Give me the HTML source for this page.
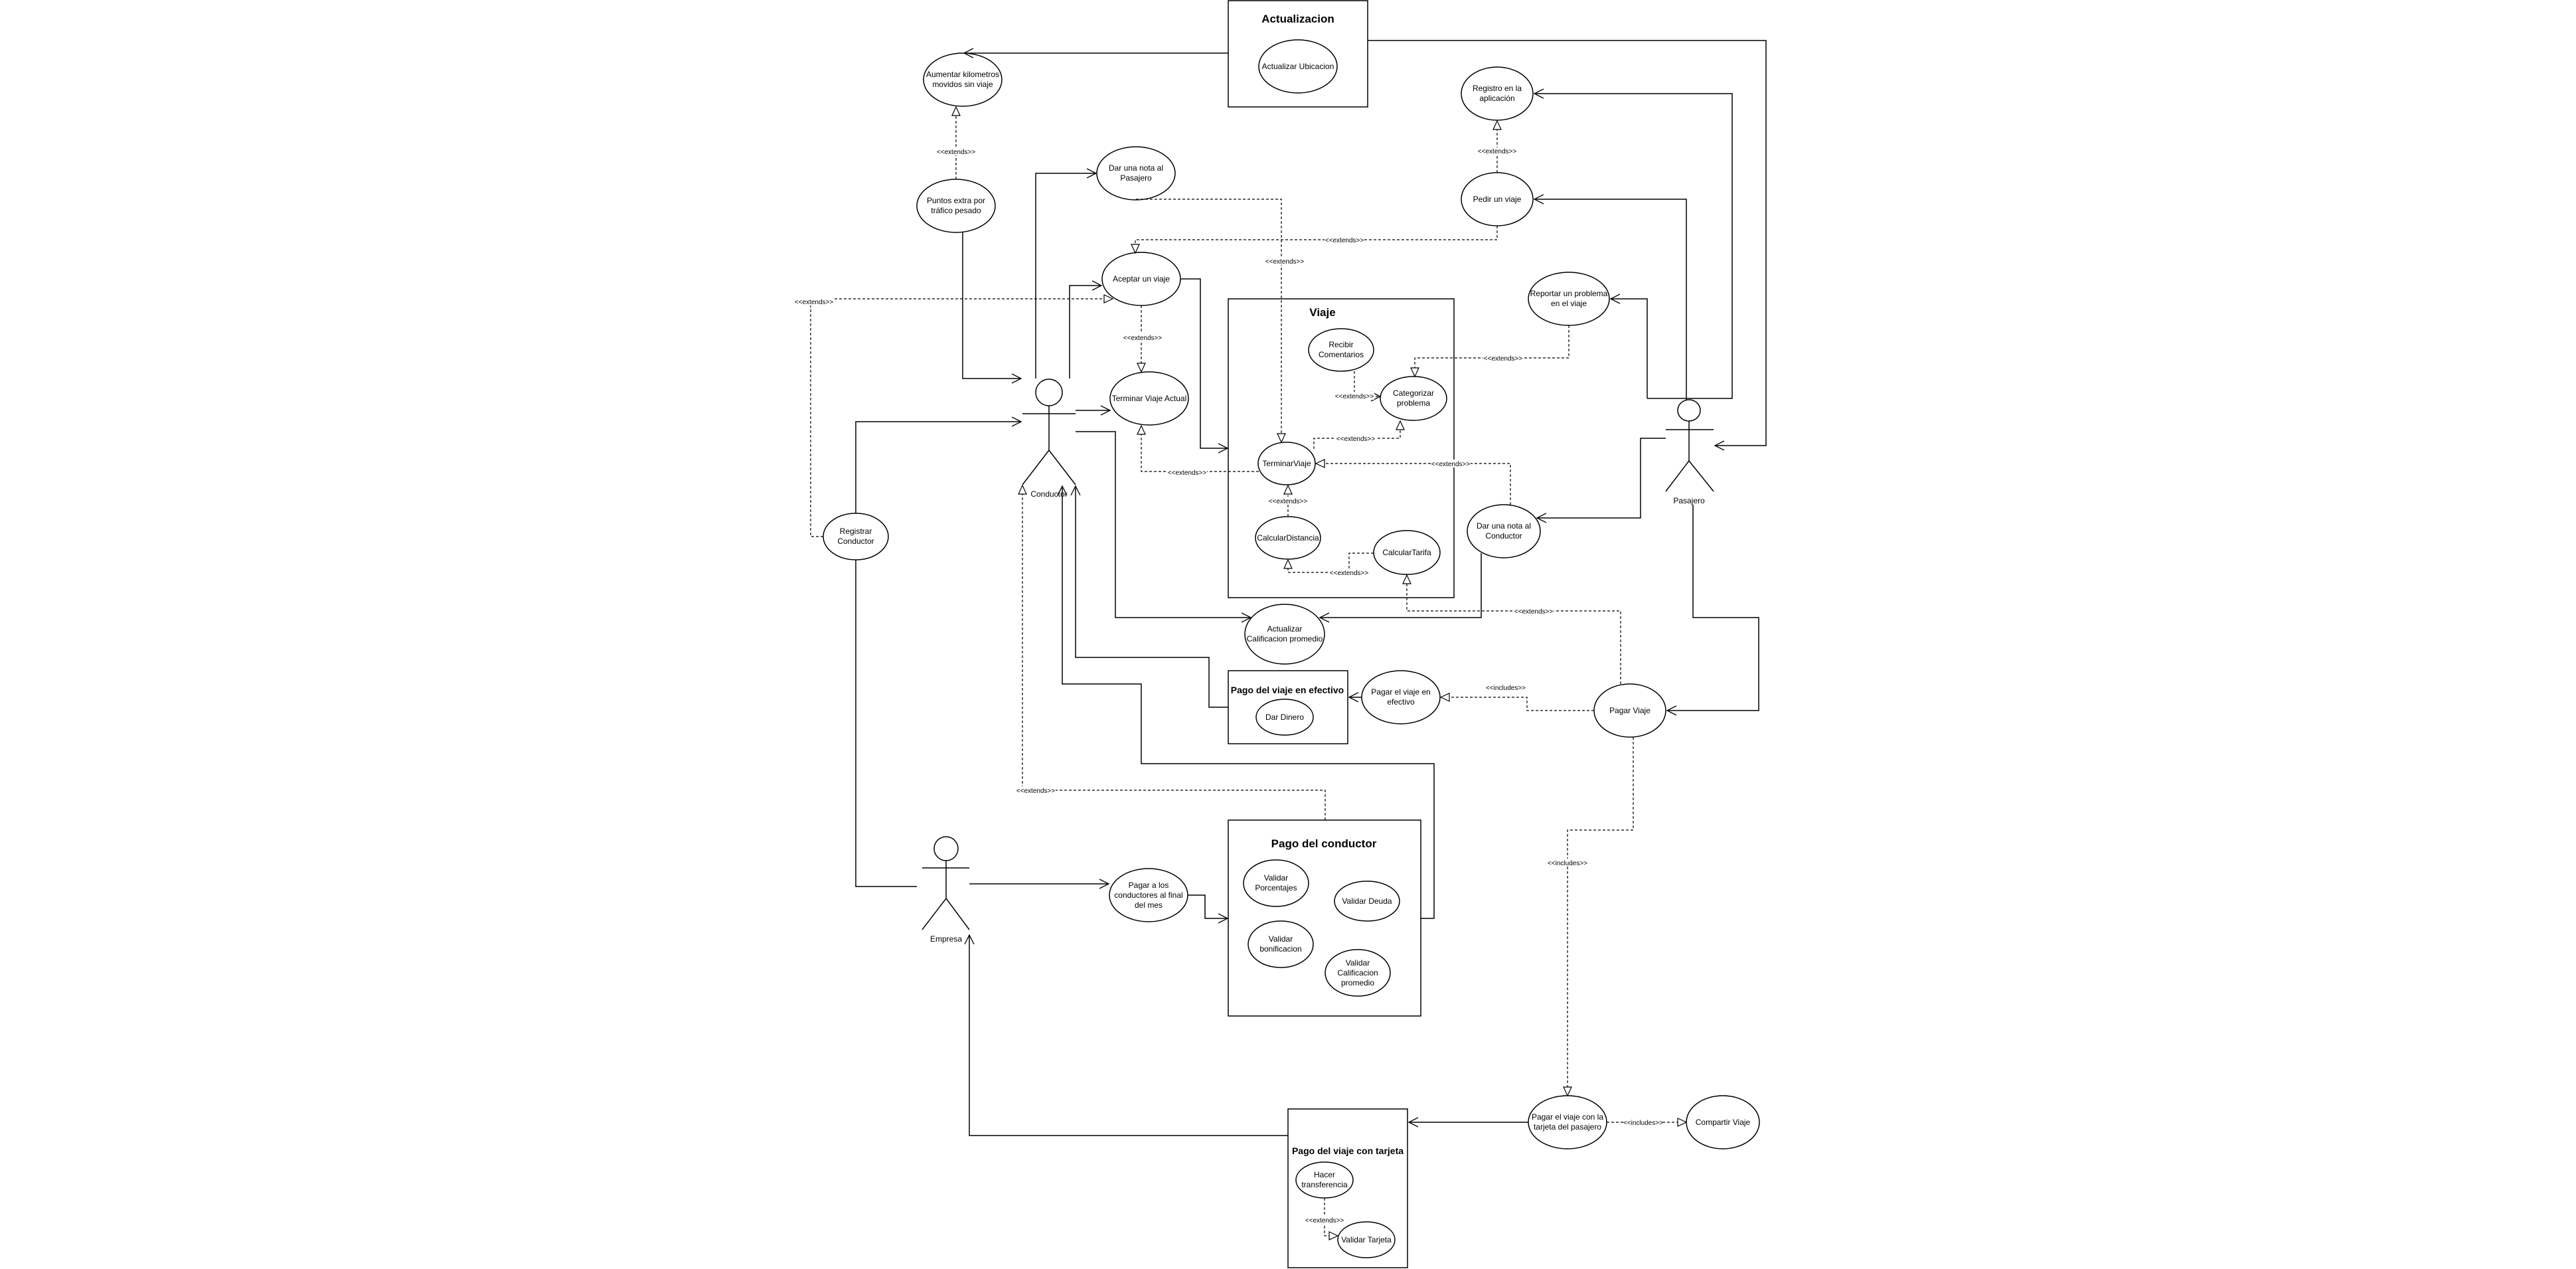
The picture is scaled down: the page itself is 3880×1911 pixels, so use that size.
<!DOCTYPE html>
<html><head><meta charset="utf-8"><style>
html,body{margin:0;padding:0;background:#fff;}
svg{display:block;}
text{font-family:"Liberation Sans",sans-serif;font-size:12px;fill:#000;text-anchor:middle;}
.t{font-weight:bold;font-size:17px;}
.s{font-size:10px;}
</style></head><body>
<svg width="3880" height="1911" viewBox="0 0 3880 1911" xmlns="http://www.w3.org/2000/svg">
<defs>
<marker id="o" markerWidth="16" markerHeight="16" refX="14" refY="8" orient="auto" markerUnits="userSpaceOnUse">
<path d="M0,1 L14,8 L0,15" fill="none" stroke="#000" stroke-width="1.3"/></marker>
<marker id="h" markerWidth="16" markerHeight="16" refX="14" refY="8" orient="auto" markerUnits="userSpaceOnUse">
<path d="M1,2 L14,8 L1,14 Z" fill="#fff" stroke="#000" stroke-width="1.2"/></marker>
</defs>
<g fill="none" stroke="#000" stroke-width="1.5">
<rect x="1850" y="1" width="210" height="160"/>
<rect x="1850" y="450" width="340" height="450"/>
<rect x="1850" y="1010" width="180" height="110"/>
<rect x="1850" y="1235" width="290" height="295"/>
<rect x="1940" y="1670" width="180" height="239"/>
<ellipse cx="1955" cy="100" rx="59" ry="40"/>
<ellipse cx="1450" cy="120" rx="59" ry="40"/>
<ellipse cx="2255" cy="141" rx="54" ry="40"/>
<ellipse cx="2255" cy="300" rx="54" ry="40"/>
<ellipse cx="2363" cy="450" rx="61" ry="40"/>
<ellipse cx="2265" cy="800" rx="55" ry="40"/>
<ellipse cx="1711" cy="261" rx="59" ry="40"/>
<ellipse cx="1719" cy="420" rx="59" ry="40"/>
<ellipse cx="1731" cy="600" rx="59" ry="40"/>
<ellipse cx="1440" cy="310" rx="59" ry="40"/>
<ellipse cx="1289" cy="808" rx="49" ry="35"/>
<ellipse cx="1935" cy="955" rx="60" ry="45"/>
<ellipse cx="2020" cy="527" rx="49" ry="32"/>
<ellipse cx="2129" cy="600" rx="50" ry="33"/>
<ellipse cx="1938" cy="698" rx="43" ry="32"/>
<ellipse cx="1940" cy="810" rx="49" ry="32"/>
<ellipse cx="2119" cy="832" rx="50" ry="33"/>
<ellipse cx="1935" cy="1080" rx="43" ry="27"/>
<ellipse cx="2110" cy="1050" rx="59" ry="40"/>
<ellipse cx="2455" cy="1070" rx="54" ry="40"/>
<ellipse cx="1922" cy="1330" rx="49" ry="35"/>
<ellipse cx="2059" cy="1357" rx="49" ry="30"/>
<ellipse cx="1929" cy="1422" rx="49" ry="35"/>
<ellipse cx="2045" cy="1465" rx="49" ry="35"/>
<ellipse cx="1730" cy="1348" rx="59" ry="40"/>
<ellipse cx="1995" cy="1777" rx="43" ry="27"/>
<ellipse cx="2058" cy="1867" rx="43" ry="27"/>
<ellipse cx="2361" cy="1690" rx="59" ry="40"/>
<ellipse cx="2595" cy="1690" rx="55" ry="40"/>
<ellipse cx="2544" cy="618" rx="17" ry="16"/>
<path d="M2509,647 H2581 M2544,634 V694 L2509,740 M2544,694 L2581,740"/>
<ellipse cx="1580" cy="591" rx="20" ry="20"/>
<path d="M1540,623 H1620 M1580,611 V678 L1540,730 M1580,678 L1620,730"/>
<ellipse cx="1425" cy="1278" rx="18" ry="18"/>
<path d="M1389,1307 H1460 M1425,1296 V1353 L1389,1400 M1425,1353 L1460,1400"/>
</g>
<g fill="none" stroke="#000" stroke-width="1.5">
<path d="M1850,80 H1452" marker-end="url(#o)"/>
<path d="M2060,61 H2660 V671 H2583" marker-end="url(#o)"/>
<path d="M2481,600 H2609 V141 H2311" marker-end="url(#o)"/>
<path d="M2540,603 V300 H2311" marker-end="url(#o)"/>
<path d="M2481,600 V450 H2426" marker-end="url(#o)"/>
<path d="M2509,660 H2471 V780 H2315" marker-end="url(#o)"/>
<path d="M2550,760 V930 H2649 V1070 H2511" marker-end="url(#o)"/>
<path d="M1560,570 V261 H1651" marker-end="url(#o)"/>
<path d="M1611,570 V430 H1659" marker-end="url(#o)"/>
<path d="M1620,618 H1672" marker-end="url(#o)"/>
<path d="M1620,650 H1680 V930 H1884" marker-end="url(#o)"/>
<path d="M1450,350 V570 H1538" marker-end="url(#o)"/>
<path d="M1779,420 H1808 V675 H1849" marker-end="url(#o)"/>
<path d="M1289,773 V635 H1538" marker-end="url(#o)"/>
<path d="M1289,843 V1335 H1381"/>
<path d="M2140,1383 H2160 V1150 H1719 V1030 H1600 V732" marker-end="url(#o)"/>
<path d="M1850,1065 H1821 V990 H1620 V732" marker-end="url(#o)"/>
<path d="M2231,833 V930 H1988" marker-end="url(#o)"/>
<path d="M2051,1050 H2032" marker-end="url(#o)"/>
<path d="M1460,1331 H1670" marker-end="url(#o)"/>
<path d="M1789,1348 H1815 V1383 H1849" marker-end="url(#o)"/>
<path d="M1940,1710 H1460 V1408" marker-end="url(#o)"/>
<path d="M2302,1690 H2122" marker-end="url(#o)"/>
</g>
<g fill="none" stroke="#000" stroke-width="1.2" stroke-dasharray="4,3">
<path d="M2255,260 V182" marker-end="url(#h)"/>
<path d="M1440,270 V161" marker-end="url(#h)"/>
<path d="M1711,300 H1930 V666" marker-end="url(#h)"/>
<path d="M2255,340 V361 H1710 V381" marker-end="url(#h)"/>
<path d="M1719,460 V560" marker-end="url(#h)"/>
<path d="M1240,808 H1221 V450 H1676" marker-end="url(#h)"/>
<path d="M2363,490 V539 H2131 V567" marker-end="url(#h)"/>
<path d="M2040,559 V597 H2079" marker-end="url(#o)"/>
<path d="M1979,676 V660 H2109 V634" marker-end="url(#h)"/>
<path d="M1896,710 H1719 V641" marker-end="url(#h)"/>
<path d="M2275,760 V698 H1982" marker-end="url(#h)"/>
<path d="M1940,778 V731" marker-end="url(#h)"/>
<path d="M2069,833 H2032 V862 H1940 V843" marker-end="url(#h)"/>
<path d="M2441,1030 V920 H2119 V866" marker-end="url(#h)"/>
<path d="M2401,1070 H2300 V1050 H2170" marker-end="url(#h)"/>
<path d="M2460,1110 V1250 H2361 V1650" marker-end="url(#h)"/>
<path d="M1996,1235 V1190 H1540 V731" marker-end="url(#h)"/>
<path d="M1995,1804 V1861 H2015" marker-end="url(#h)"/>
<path d="M2420,1690 H2540" marker-end="url(#h)"/>
</g>
<g class="s">
<rect x="1410" y="222" width="60" height="12" fill="#fff"/><text class="s" x="1440" y="232">&lt;&lt;extends&gt;&gt;</text>
<rect x="2225" y="222" width="60" height="12" fill="#fff"/><text class="s" x="2255" y="231">&lt;&lt;extends&gt;&gt;</text>
<rect x="1905" y="387" width="60" height="12" fill="#fff"/><text class="s" x="1935" y="397">&lt;&lt;extends&gt;&gt;</text>
<rect x="1995" y="355" width="60" height="12" fill="#fff"/><text class="s" x="2025" y="365">&lt;&lt;extends&gt;&gt;</text>
<rect x="1691" y="502" width="60" height="12" fill="#fff"/><text class="s" x="1721" y="512">&lt;&lt;extends&gt;&gt;</text>
<rect x="1196" y="448" width="60" height="12" fill="#fff"/><text class="s" x="1226" y="458">&lt;&lt;extends&gt;&gt;</text>
<rect x="2234" y="533" width="60" height="12" fill="#fff"/><text class="s" x="2264" y="543">&lt;&lt;extends&gt;&gt;</text>
<rect x="2010" y="590" width="60" height="12" fill="#fff"/><text class="s" x="2040" y="600">&lt;&lt;extends&gt;&gt;</text>
<rect x="2012" y="654" width="60" height="12" fill="#fff"/><text class="s" x="2042" y="664">&lt;&lt;extends&gt;&gt;</text>
<rect x="1758" y="705" width="60" height="12" fill="#fff"/><text class="s" x="1788" y="715">&lt;&lt;extends&gt;&gt;</text>
<rect x="2155" y="692" width="60" height="12" fill="#fff"/><text class="s" x="2185" y="702">&lt;&lt;extends&gt;&gt;</text>
<rect x="1910" y="748" width="60" height="12" fill="#fff"/><text class="s" x="1940" y="758">&lt;&lt;extends&gt;&gt;</text>
<rect x="2002" y="856" width="60" height="12" fill="#fff"/><text class="s" x="2032" y="866">&lt;&lt;extends&gt;&gt;</text>
<rect x="2280" y="914" width="60" height="12" fill="#fff"/><text class="s" x="2310" y="924">&lt;&lt;extends&gt;&gt;</text>
<rect x="2238" y="1029" width="60" height="12" fill="#fff"/><text class="s" x="2268" y="1039">&lt;&lt;includes&gt;&gt;</text>
<rect x="2331" y="1293" width="60" height="12" fill="#fff"/><text class="s" x="2361" y="1303">&lt;&lt;includes&gt;&gt;</text>
<rect x="1530" y="1184" width="60" height="12" fill="#fff"/><text class="s" x="1560" y="1194">&lt;&lt;extends&gt;&gt;</text>
<rect x="1965" y="1831" width="60" height="12" fill="#fff"/><text class="s" x="1995" y="1841">&lt;&lt;extends&gt;&gt;</text>
<rect x="2447" y="1684" width="56" height="12" fill="#fff"/><text class="s" x="2475" y="1694">&lt;&lt;includes&gt;&gt;</text>
</g>
<text class="t" x="1955" y="34">Actualizacion</text>
<text class="t" x="1992" y="476">Viaje</text>
<text class="t" style="font-size:14px" x="1939" y="1044">Pago del viaje en efectivo</text>
<text class="t" x="1994" y="1276">Pago del conductor</text>
<text class="t" style="font-size:14px" x="2030" y="1738">Pago del viaje con tarjeta</text>
<text x="1955" y="104">Actualizar Ubicacion</text>
<text x="1450" y="116">Aumentar kilometros</text><text x="1450" y="131">movidos sin viaje</text>
<text x="2255" y="137">Registro en la</text><text x="2255" y="152">aplicación</text>
<text x="2255" y="304">Pedir un viaje</text>
<text x="2363" y="446">Reportar un problema</text><text x="2363" y="461">en el viaje</text>
<text x="2265" y="796">Dar una nota al</text><text x="2265" y="811">Conductor</text>
<text x="1711" y="257">Dar una nota al</text><text x="1711" y="272">Pasajero</text>
<text x="1719" y="424">Aceptar un viaje</text>
<text x="1731" y="604">Terminar Viaje Actual</text>
<text x="1440" y="306">Puntos extra por</text><text x="1440" y="321">tráfico pesado</text>
<text x="1289" y="804">Registrar</text><text x="1289" y="819">Conductor</text>
<text x="1935" y="951">Actualizar</text><text x="1935" y="966">Calificacion promedio</text>
<text x="2020" y="523">Recibir</text><text x="2020" y="538">Comentarios</text>
<text x="2129" y="596">Categorizar</text><text x="2129" y="611">problema</text>
<text x="1938" y="702">TerminarViaje</text>
<text x="1940" y="814">CalcularDistancia</text>
<text x="2119" y="836">CalcularTarifa</text>
<text x="1935" y="1084">Dar Dinero</text>
<text x="2110" y="1046">Pagar el viaje en</text><text x="2110" y="1061">efectivo</text>
<text x="2455" y="1074">Pagar Viaje</text>
<text x="1922" y="1326">Validar</text><text x="1922" y="1341">Porcentajes</text>
<text x="2059" y="1361">Validar Deuda</text>
<text x="1929" y="1418">Validar</text><text x="1929" y="1433">bonificacion</text>
<text x="2045" y="1454">Validar</text><text x="2045" y="1469">Calificacion</text><text x="2045" y="1484">promedio</text>
<text x="1730" y="1337">Pagar a los</text><text x="1730" y="1352">conductores al final</text><text x="1730" y="1367">del mes</text>
<text x="1995" y="1773">Hacer</text><text x="1995" y="1788">transferencia</text>
<text x="2058" y="1871">Validar Tarjeta</text>
<text x="2361" y="1686">Pagar el viaje con la</text><text x="2361" y="1701">tarjeta del pasajero</text>
<text x="2595" y="1694">Compartir Viaje</text>
<text x="2544" y="758">Pasajero</text>
<text x="1580" y="748">Conductor</text>
<text x="1425" y="1418">Empresa</text>
</svg>
</body></html>
